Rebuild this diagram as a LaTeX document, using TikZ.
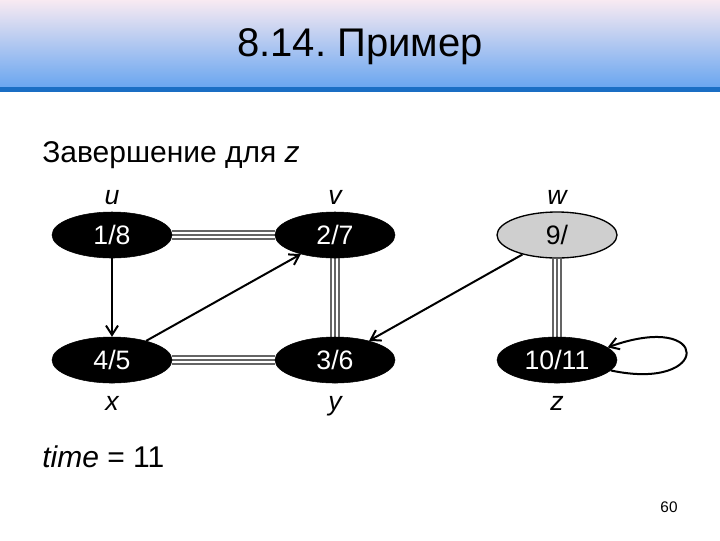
\documentclass[tikz,border=0pt]{standalone}
\usepackage{fontspec}
\setmainfont{Liberation Sans}
\usetikzlibrary{shapes.geometric, arrows.meta, positioning, backgrounds}

\definecolor{headtop}{HTML}{F8EAF2}
\definecolor{headmid}{HTML}{C3D7F3}
\definecolor{headbot}{HTML}{6AA6F0}
\definecolor{headline}{HTML}{1A6EC4}
\definecolor{treegray}{HTML}{646464}
\definecolor{greyvertex}{HTML}{CFCFCF}

\frenchspacing

\begin{document}
\begin{tikzpicture}[
    x=0.75pt, y=-0.75pt,
    % Node styles
    vertex/.style={
        ellipse,
        draw=black,
        fill=black,
        text=white,
        minimum width=90pt,
        minimum height=34.5pt,
        inner sep=0pt,
        font=\fontsize{20}{22}\selectfont
    },
    greyvtx/.style={
        vertex,
        line width=1pt,
        fill=greyvertex,
        text=black
    },
    vlabel/.style={
        anchor=base,
        font=\fontsize{20}{22}\selectfont\itshape
    },
    maintext/.style={
        anchor=base west,
        inner sep=0pt,
        font=\fontsize{22.5}{26}\selectfont
    },
    arrow/.style={
        -{Straight Barb[length=7pt, width=9pt]},
        line width=1.5pt,
        black
    },
    treeedge/.style={
        draw=treegray,
        line width=7pt,
        postaction={draw=white, line width=4.2pt},
        postaction={draw=treegray, line width=1.5pt}
    }
]
\useasboundingbox (0,0) rectangle (720,540);

% --- Header ---
\shade[top color=headtop, middle color=headmid, bottom color=headbot] (0,0) rectangle (720,87);
\fill[headline] (0,87) rectangle (720,92);
\node[font=\fontsize{30}{34}\selectfont] (title) at (360,47) {8.14. Пример};

% --- Texts ---
\node[maintext] (caption) at (42,162) {Завершение для \textit{z}};
\node[maintext] (time) at (42,467) {\textit{time} = 11};
\node[font=\fontsize{11.5}{13}\selectfont] (page) at (669,507) {60};

% --- Vertices ---
\node[vertex] (u) at (112,235) {1/8};
\node[vertex] (v) at (335,235) {2/7};
\node[greyvtx] (w) at (557,235) {9/};
\node[vertex] (x) at (112,360) {4/5};
\node[vertex] (y) at (335,360) {3/6};
\node[vertex] (z) at (557,360) {10/11};

% --- Vertex labels ---
\node[vlabel] (ulab) at (112,204) {u};
\node[vlabel] (vlab) at (335,204) {v};
\node[vlabel] (wlab) at (557,204) {w};
\node[vlabel] (xlab) at (112,410) {x};
\node[vlabel] (ylab) at (335,410) {y};
\node[vlabel] (zlab) at (557,410) {z};

% --- Tree edges ---
\begin{scope}[on background layer]
\draw[treeedge] (u) -- (v);
\draw[treeedge] (v) -- (y);
\draw[treeedge] (x) -- (y);
\draw[treeedge] (w) -- (z);
\end{scope}

% --- Other edges ---
\draw[arrow] (u) -- (x);
\draw[arrow] (x) -- (v);
\draw[arrow] (w) -- (y);
\draw[arrow] (z.-11) .. controls (712,392) and (712,310) .. (z.14);

\end{tikzpicture}
\end{document}
